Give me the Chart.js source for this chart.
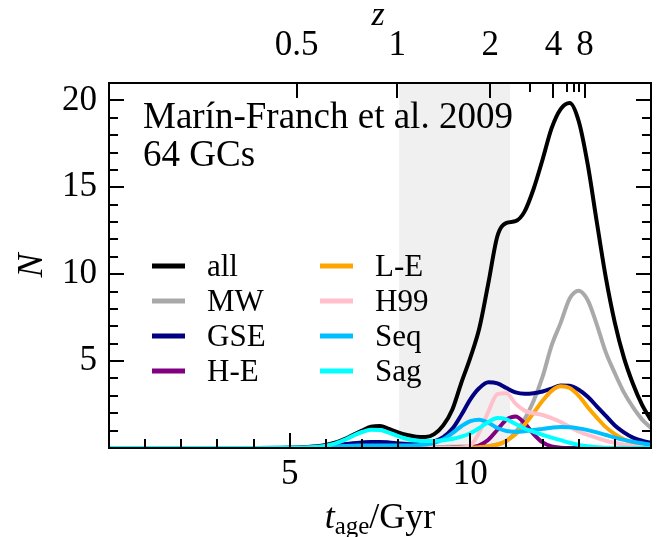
<!DOCTYPE html>
<html>
<head>
<meta charset="utf-8">
<script src="https://cdn.jsdelivr.net/npm/chart.js@4.4.0/dist/chart.umd.min.js"></script>
<style>
html, body { margin: 0; padding: 0; background: #fff; }
#wrap { width: 659px; height: 537px; }
</style>
</head>
<body>
<div id="wrap"><canvas id="chart" width="659" height="537"></canvas></div>
<script>
// ages (Gyr) at which the curves are sampled
const tAge = [0, 4, 5, 5.5, 5.75, 6, 6.25, 6.5, 6.75, 7, 7.25, 7.5, 7.75, 8, 8.25, 8.5, 8.75, 9, 9.25, 9.5, 9.75,
    10, 10.25, 10.5, 10.75, 11, 11.25, 11.5, 11.75, 12, 12.25, 12.5, 12.75, 13, 13.25, 13.5, 13.75, 14, 14.25, 14.5, 14.75, 15];

const nAll = [0, 0, 0.02, 0.06, 0.1, 0.18, 0.3, 0.5, 0.75, 1.0, 1.22, 1.27, 1.1, 0.9, 0.75, 0.65, 0.63, 0.8, 1.3, 2.2, 3.75,
    5.2, 6.9, 9.5, 12.2, 12.95, 13.05, 13.6, 14.9, 16.6, 18.4, 19.5, 19.85, 18.8, 16.3, 13.0, 9.8, 7.2, 5.2, 3.7, 2.5, 1.6];
const nMW = [0, 0, 0, 0, 0, 0.01, 0.02, 0.03, 0.04, 0.05, 0.05, 0.05, 0.04, 0.04, 0.04, 0.04, 0.05, 0.05, 0.06, 0.07, 0.08,
    0.09, 0.1, 0.12, 0.2, 0.4, 0.9, 1.65, 2.7, 4.1, 5.9, 7.2, 8.6, 9.05, 8.5, 7.1, 5.5, 4.3, 3.2, 2.35, 1.65, 1.15];
const nGSE = [0, 0, 0.01, 0.03, 0.06, 0.1, 0.15, 0.22, 0.28, 0.32, 0.35, 0.35, 0.32, 0.27, 0.23, 0.22, 0.26, 0.38, 0.62, 1.1, 1.9,
    2.8, 3.45, 3.78, 3.72, 3.45, 3.2, 3.12, 3.15, 3.25, 3.42, 3.6, 3.58, 3.35, 2.95, 2.4, 1.85, 1.3, 0.9, 0.6, 0.42, 0.3];
const nHE = [0, 0, 0, 0, 0, 0, 0, 0, 0, 0, 0, 0, 0, 0, 0, 0, 0, 0, 0, 0.01, 0.02,
    0.04, 0.16, 0.48, 1.05, 1.63, 1.81, 1.43, 0.8, 0.32, 0.09, 0.02, 0, 0, 0, 0, 0, 0, 0, 0, 0, 0];
const nLE = [0, 0, 0, 0, 0, 0, 0, 0, 0, 0, 0, 0, 0, 0, 0, 0, 0, 0, 0, 0.01, 0.02,
    0.03, 0.05, 0.09, 0.2, 0.42, 0.79, 1.34, 2.02, 2.72, 3.29, 3.55, 3.45, 3.0, 2.35, 1.75, 1.2, 0.8, 0.5, 0.3, 0.18, 0.1];
const nH99 = [0, 0, 0, 0, 0, 0, 0, 0, 0, 0, 0, 0, 0, 0, 0, 0, 0, 0, 0, 0, 0.02,
    0.15, 0.9, 2.1, 3.1, 3.15, 2.55, 2.15, 2.0, 1.9, 1.72, 1.5, 1.22, 0.95, 0.75, 0.58, 0.42, 0.3, 0.2, 0.12, 0.07, 0.04];
const nSeq = [0, 0, 0.01, 0.03, 0.05, 0.07, 0.09, 0.11, 0.13, 0.14, 0.15, 0.15, 0.15, 0.14, 0.14, 0.16, 0.2, 0.3, 0.5, 0.85, 1.25,
    1.55, 1.63, 1.45, 1.15, 0.98, 0.94, 0.97, 1.03, 1.1, 1.17, 1.21, 1.2, 1.13, 1.03, 0.9, 0.75, 0.6, 0.47, 0.36, 0.27, 0.19];
const nSag = [0, 0, 0.01, 0.03, 0.07, 0.13, 0.25, 0.45, 0.7, 0.92, 1.05, 1.04, 0.88, 0.68, 0.52, 0.43, 0.4, 0.41, 0.45, 0.52, 0.65,
    0.85, 1.15, 1.5, 1.72, 1.65, 1.38, 1.12, 0.93, 0.76, 0.6, 0.45, 0.3, 0.18, 0.1, 0.05, 0.02, 0.01, 0.01, 0, 0, 0];

const seriesNames = ['all', 'MW', 'GSE', 'H-E', 'L-E', 'H99', 'Seq', 'Sag'];
const seriesValues = [nAll, nMW, nGSE, nHE, nLE, nH99, nSeq, nSag];
const seriesColors = ['#000000', '#a9a9a9', '#000080', '#800080', '#ffa500', '#ffc0cb', '#00bfff', '#00ffff'];

const xTicks = [5, 10];
const yTicks = [5, 10, 15, 20];
const zLabels = ['0.5', '1', '2', '4', '8'];
const zAge = [5.19, 7.98, 10.55, 12.3, 13.17];
const zMinorAge = [11.66, 12.68, 12.86, 13.02];
const shadeAge = [8.03, 11.1];

const serif = '"Liberation Serif", "DejaVu Serif", serif';

const framePlugin = {
    id: 'frame',
    beforeDatasetsDraw(chart) {
        const { ctx, chartArea: a, scales: { x } } = chart;
        const x0 = x.getPixelForValue(shadeAge[0]);
        const x1 = x.getPixelForValue(shadeAge[1]);
        ctx.save();
        ctx.fillStyle = '#f0f0f0';
        ctx.fillRect(x0, a.top, x1 - x0, a.bottom - a.top);
        ctx.restore();
    },
    afterDatasetsDraw(chart) {
        const { ctx, chartArea: a, scales: { x, y } } = chart;
        ctx.save();
        ctx.strokeStyle = '#000';
        ctx.lineWidth = 2;

        // inward ticks, left + right
        ctx.beginPath();
        for (let v = 1; v <= 20; v++) {
            const py = Math.round(y.getPixelForValue(v));
            const len = v % 5 === 0 ? 15 : 9;
            ctx.moveTo(a.left, py); ctx.lineTo(a.left + len, py);
            ctx.moveTo(a.right, py); ctx.lineTo(a.right - len, py);
        }
        // bottom
        for (let v = 1; v < 15; v++) {
            const px = Math.round(x.getPixelForValue(v));
            const len = v % 5 === 0 ? 15 : 9;
            ctx.moveTo(px, a.bottom); ctx.lineTo(px, a.bottom - len);
        }
        // top (redshift)
        zAge.forEach(t => {
            const px = Math.round(x.getPixelForValue(t));
            ctx.moveTo(px, a.top); ctx.lineTo(px, a.top + 15);
        });
        zMinorAge.forEach(t => {
            const px = Math.round(x.getPixelForValue(t));
            ctx.moveTo(px, a.top); ctx.lineTo(px, a.top + 9);
        });
        ctx.stroke();
        ctx.strokeRect(a.left, a.top, a.right - a.left, a.bottom - a.top);

        // annotation
        ctx.fillStyle = '#000';
        ctx.font = '37px ' + serif;
        ctx.textAlign = 'left';
        ctx.textBaseline = 'alphabetic';
        ctx.fillText('Marín-Franch et al. 2009', 143, 128);
        ctx.fillText('64 GCs', 143, 166);

        // legend, two columns
        ctx.font = '31px ' + serif;
        ctx.textBaseline = 'middle';
        seriesNames.forEach((name, i) => {
            const col = i < 4 ? 0 : 1;
            const row = i % 4;
            const lx = col === 0 ? 152 : 320;
            const ly = 266 + row * 35;
            ctx.strokeStyle = seriesColors[i];
            ctx.lineWidth = 5;
            ctx.beginPath();
            ctx.moveTo(lx, ly); ctx.lineTo(lx + 33, ly);
            ctx.stroke();
            ctx.fillText(name, lx + 55, ly + 2);
        });

        // axis titles
        ctx.textBaseline = 'alphabetic';
        ctx.textAlign = 'left';
        const cx = (a.left + a.right) / 2;
        ctx.font = 'italic 36px ' + serif;
        const wt = ctx.measureText('t').width;
        ctx.font = '25px ' + serif;
        const wa = ctx.measureText('age').width;
        ctx.font = '36px ' + serif;
        const wg = ctx.measureText('/Gyr').width;
        let sx = cx - (wt + wa + wg) / 2;
        const by = 528;
        ctx.font = 'italic 36px ' + serif;
        ctx.fillText('t', sx, by);
        ctx.font = '25px ' + serif;
        ctx.fillText('age', sx + wt, by + 6);
        ctx.font = '36px ' + serif;
        ctx.fillText('/Gyr', sx + wt + wa, by);

        ctx.font = 'italic 34px ' + serif;
        ctx.textAlign = 'center';
        ctx.textBaseline = 'middle';
        ctx.fillText('z', cx - 2, 16);

        ctx.translate(33, (a.top + a.bottom) / 2);
        ctx.rotate(-Math.PI / 2);
        ctx.font = 'italic 36px ' + serif;
        ctx.fillText('N', 0, 0);
        ctx.restore();
    }
};

const datasets = seriesNames.map((name, i) => ({
    label: name,
    data: tAge.map((t, j) => ({ x: t, y: seriesValues[i][j] })),
    borderColor: seriesColors[i],
    borderWidth: 4,
    pointRadius: 0,
    fill: false,
    cubicInterpolationMode: 'monotone',
    order: seriesNames.length - 1 - i
}));

const tickFont = { family: serif, size: 35 };

new Chart(document.getElementById('chart').getContext('2d'), {
    type: 'line',
    data: { datasets },
    options: {
        responsive: false,
        animation: false,
        layout: { padding: { left: 0, right: 8, top: 0, bottom: 0 } },
        plugins: { legend: { display: false }, tooltip: { enabled: false } },
        scales: {
            x: {
                type: 'linear', position: 'bottom', min: 0, max: 15,
                grid: { display: false, drawTicks: false }, border: { display: false },
                afterBuildTicks: s => { s.ticks = xTicks.map(v => ({ value: v })); },
                afterFit: s => { s.height = 89; },
                ticks: { font: tickFont, color: '#000', padding: 6, maxRotation: 0, autoSkip: false }
            },
            x2: {
                type: 'linear', position: 'top', min: 0, max: 15,
                grid: { display: false, drawTicks: false }, border: { display: false },
                afterBuildTicks: s => { s.ticks = zAge.map(v => ({ value: v })); },
                afterFit: s => { s.height = 83; },
                ticks: { font: tickFont, color: '#000', padding: 16, maxRotation: 0, autoSkip: false,
                    callback: (v, i) => zLabels[i] }
            },
            y: {
                type: 'linear', position: 'left', min: 0, max: 21,
                grid: { display: false, drawTicks: false }, border: { display: false },
                afterBuildTicks: s => { s.ticks = yTicks.map(v => ({ value: v })); },
                afterFit: s => { s.width = 109; },
                ticks: { font: tickFont, color: '#000', padding: 12 }
            }
        }
    },
    plugins: [framePlugin]
});
</script>
</body>
</html>
